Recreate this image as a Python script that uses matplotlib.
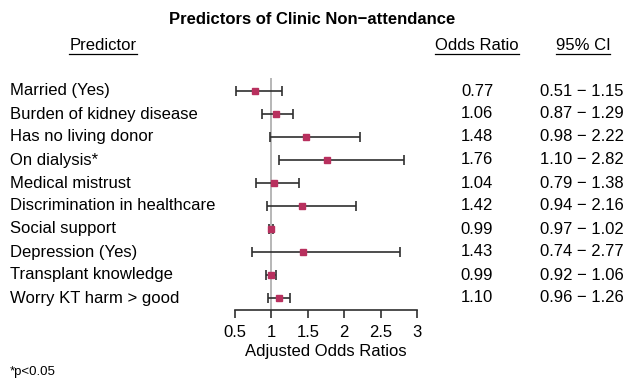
import matplotlib
matplotlib.use('Agg')
import matplotlib.pyplot as plt
from matplotlib.lines import Line2D

plt.rcParams['font.family'] = ['Liberation Sans', 'DejaVu Sans']

predictors = ['Married (Yes)', 'Burden of kidney disease', 'Has no living donor',
              'On dialysis*', 'Medical mistrust', 'Discrimination in healthcare',
              'Social support', 'Depression (Yes)', 'Transplant knowledge',
              'Worry KT harm > good']
odds = [0.77, 1.06, 1.48, 1.76, 1.04, 1.42, 0.99, 1.43, 0.99, 1.10]
lower = [0.51, 0.87, 0.98, 1.10, 0.79, 0.94, 0.97, 0.74, 0.92, 0.96]
upper = [1.15, 1.29, 2.22, 2.82, 1.38, 2.16, 1.02, 2.77, 1.06, 1.26]
xticks = [0.5, 1, 1.5, 2, 2.5, 3]

W, H = 626, 381
fig = plt.figure(figsize=(W / 100, H / 100), dpi=100)

# axes placed in pixel units (rows at y=91..298, axis line at y=310)
ax = fig.add_axes([235 / W, 1 - 310 / H, 182 / W, (310 - 78) / H])
n = len(predictors)
step = 23
ax.set_xlim(0.5, 3)
ax.set_ylim((310 - 91) / step, (78 - 91) / step)

ax.axvline(1, color='#aaaaaa', lw=1.2, zorder=1)
ys = list(range(n))
xerr = [[o - l for o, l in zip(odds, lower)], [u - o for o, u in zip(odds, upper)]]
ax.errorbar(odds, ys, xerr=xerr, fmt='none', ecolor='#2f2f2f', elinewidth=1.2,
            capsize=3.5, capthick=1.2, zorder=2)
ax.plot(odds, ys, 's', color='#b8305e', ms=5, zorder=3)

for s in ['top', 'right', 'left']:
    ax.spines[s].set_visible(False)
ax.spines['bottom'].set_linewidth(1.2)
ax.spines['bottom'].set_color('#2f2f2f')
ax.set_yticks([])
ax.set_xticks(xticks)
ax.set_xticklabels(['0.5', '1', '1.5', '2', '2.5', '3'])
ax.tick_params(axis='x', length=6, width=1.2, color='#2f2f2f', labelsize=12, pad=5)
ax.set_xlabel('Adjusted Odds Ratios', fontsize=12, labelpad=3)


def fy(py):
    return 1 - py / H


fig.text(312 / W, fy(20), 'Predictors of Clinic Non\u2212attendance', ha='center',
         va='center', fontsize=12, fontweight='bold')
headers = [
    fig.text(103 / W, fy(45), 'Predictor', ha='center', va='center', fontsize=12),
    fig.text(477 / W, fy(45), 'Odds Ratio', ha='center', va='center', fontsize=12),
    fig.text(583 / W, fy(45), '95% CI', ha='center', va='center', fontsize=12),
]

for i, name in enumerate(predictors):
    py = 91 + step * i
    fig.text(10 / W, fy(py), name, ha='left', va='center', fontsize=12)
    fig.text(477 / W, fy(py), '%.2f' % odds[i], ha='center', va='center', fontsize=12)
    fig.text(582 / W, fy(py), '%.2f \u2212 %.2f' % (lower[i], upper[i]),
             ha='center', va='center', fontsize=12)

fig.text(10 / W, fy(372), '*p<0.05', ha='left', va='center', fontsize=9.5)

# underline the headers
fig.canvas.draw()
r = fig.canvas.get_renderer()
for t in headers:
    bb = t.get_window_extent(r)
    yy = (bb.y0 - 1.5) / H
    fig.add_artist(Line2D([bb.x0 / W, bb.x1 / W], [yy, yy], color='black', lw=0.9))

fig.savefig('out.png', dpi=100)
